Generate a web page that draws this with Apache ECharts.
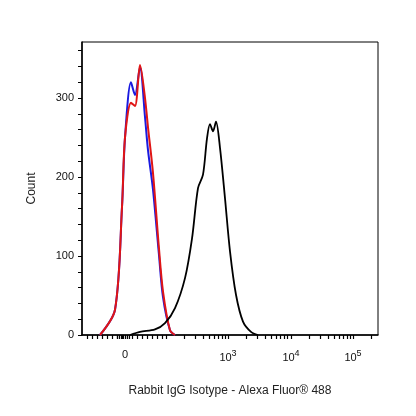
<!DOCTYPE html><html><head><meta charset="utf-8">
<script src="https://cdn.jsdelivr.net/npm/echarts@6/dist/echarts.min.js"></script>
<style>html,body{margin:0;padding:0;background:#fff}#c{width:416px;height:416px}</style></head><body><div id="c"></div>
<script>
// x in display units (0..296), y = count
const blueX = [18,33,40,43,49,53,58,63,66,71,77,81,88,93];
const blueY = [0,32,162,250,320,304,339,276,234,184,101,48,6,0];
const redX = [18,33,40,43,49,53,58,63,66,71,77,81,88,93];
const redY = [0,32,162,250,294,290,342,300,263,205,109,55,6,0];
const blackX = [48,58,73,83,93,103,110,116,121,125,128,131,134,138,143,148,154,161,169,176];
const blackY = [0,4,7,15,34,72,122,186,203,249,267,258,270,237,173,106,51,17,4,0];
const xLabelPos = [43,146,209,271];
const xLabels = ['0','10{s|3}','10{s|4}','10{s|5}'];
const yTicks = [0,100,200,300];
function pairs(xs,ys){return xs.map((x,i)=>[x,ys[i]]);}
const majorX=[5,84,146,209,271];
const minorX=[];
[[84,146],[146,209],[209,271],[271,296]].forEach(([a,b])=>{for(let k=2;k<=9;k++){const p=a+(146-84)*Math.log10(k);if(p<=b&&p<296)minorX.push(p);}});
for(let p=10;p<84;p+=5)minorX.push(p);
[35,37,39,41,43,45,47].forEach(p=>minorX.push(p));
const chart=echarts.init(document.getElementById('c'));
chart.setOption({
 animation:false,
 grid:{left:82,right:38,top:42,bottom:81,show:true,borderColor:'#000',borderWidth:1},
 xAxis:{type:'value',min:0,max:296,
  name:'Rabbit IgG Isotype - Alexa Fluor® 488',nameLocation:'middle',nameGap:50,
  nameTextStyle:{fontFamily:'Liberation Sans',fontSize:12,color:'#222'},
  axisLine:{lineStyle:{color:'#000',width:1.5}},
  axisTick:{customValues:majorX.concat(minorX),length:4,lineStyle:{color:'#000',width:1.2}},
  axisLabel:{customValues:xLabelPos,formatter:v=>xLabels[xLabelPos.indexOf(v)],margin:14,fontFamily:'Liberation Sans',fontSize:11,color:'#111',rich:{s:{fontSize:9,verticalAlign:'bottom',padding:[0,0,9,0]}}},
  splitLine:{show:false}},
 yAxis:{type:'value',min:0,max:371,
  name:'Count',nameLocation:'middle',nameGap:44,nameTextStyle:{fontFamily:'Liberation Sans',fontSize:12,color:'#222'},
  axisLine:{show:true,lineStyle:{color:'#000',width:1.5}},
  axisTick:{customValues:[0,20,40,60,80,100,120,140,160,180,200,220,240,260,280,300,320,340,360],length:4,lineStyle:{color:'#000'}},
  axisLabel:{customValues:yTicks,fontFamily:'Liberation Sans',fontSize:11,color:'#111',margin:8},
  splitLine:{show:false}},
 series:[
  {type:'line',data:pairs(blueX,blueY),symbol:'none',smooth:0.3,lineStyle:{color:'#1a1ae0',width:2}},
  {type:'line',data:pairs(redX,redY),symbol:'none',smooth:0.3,lineStyle:{color:'#e01515',width:2}},
  {type:'line',data:pairs(blackX,blackY),symbol:'none',smooth:0.3,lineStyle:{color:'#000',width:1.8}}
 ]
});
</script></body></html>
